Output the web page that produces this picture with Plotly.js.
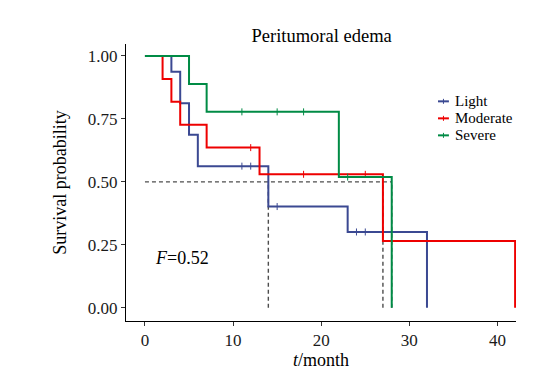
<!DOCTYPE html>
<html>
<head>
<meta charset="utf-8">
<script src="https://cdn.plot.ly/plotly-3.0.1.min.js"></script>
<style>html,body{margin:0;padding:0;background:#fff;}#chart{width:556px;height:374px;}</style>
</head>
<body>
<div id="chart"></div>
<script>
// Step data (time in months, survival probability)
const groups = ["Light", "Moderate", "Severe"];
const lightTime = [0, 3, 4, 5, 6, 14, 23, 32];
const lightSurv = [1, 0.9375, 0.8125, 0.6875, 0.5625, 0.402, 0.301, 0];
const moderateTime = [0, 2, 3, 4, 7, 13, 27, 42];
const moderateSurv = [1, 0.909, 0.818, 0.727, 0.636, 0.530, 0.265, 0];
const severeTime = [0, 5, 7, 22, 28];
const severeSurv = [1, 0.889, 0.778, 0.519, 0];
// Censor marks
const lightCensTime = [11, 12, 15, 24, 25];
const lightCensSurv = [0.5625, 0.5625, 0.402, 0.301, 0.301];
const moderateCensTime = [12, 18, 25];
const moderateCensSurv = [0.636, 0.530, 0.530];
const severeCensTime = [11, 15, 18, 23];
const severeCensSurv = [0.778, 0.778, 0.778, 0.519];
// Median survival times
const medianTimes = [14, 27, 28];
const medianLevel = 0.5;
const xTicks = [0, 10, 20, 30, 40];
const yTicks = [0, 0.25, 0.5, 0.75, 1];
const yTickText = ["0.00", "0.25", "0.50", "0.75", "1.00"];
const statText = "<i>F</i>=0.52";

const colors = ["#3B4992", "#EE0000", "#008B45"];
const times = [lightTime, moderateTime, severeTime];
const survs = [lightSurv, moderateSurv, severeSurv];
const cTimes = [lightCensTime, moderateCensTime, severeCensTime];
const cSurvs = [lightCensSurv, moderateCensSurv, severeCensSurv];

const traces = [];
// median dashed lines
const mx = [0, Math.max(...medianTimes)], my = [medianLevel, medianLevel];
medianTimes.forEach(t => { mx.push(null, t, t); my.push(null, 0, medianLevel); });
traces.push({x: mx, y: my, mode: "lines", line: {color: "#4d4d4d", width: 1.4, dash: "4px,3px"}, showlegend: false, hoverinfo: "skip"});

groups.forEach((g, i) => {
  traces.push({x: times[i], y: survs[i], mode: "lines", line: {shape: "hv", color: colors[i], width: 2}, showlegend: false, name: g});
  traces.push({x: cTimes[i], y: cSurvs[i], mode: "markers", marker: {symbol: "line-ns-open", size: 5, color: colors[i], line: {color: colors[i], width: 1}}, showlegend: false, name: g});
});

const fam = "Liberation Serif";

// Legend (drawn as key shapes + text labels, in paper coordinates)
const legX0 = 0.80, legX1 = 0.828, legTextX = 0.842, legTop = 0.793, legStep = 0.0614, tickH = 0.018;
const shapes = [], annotations = [];
groups.forEach((g, i) => {
  const yy = legTop - i * legStep;
  shapes.push({type: "line", xref: "paper", yref: "paper", x0: legX0, x1: legX1, y0: yy, y1: yy, line: {color: colors[i], width: 2}});
  const xm = (legX0 + legX1) / 2;
  shapes.push({type: "line", xref: "paper", yref: "paper", x0: xm, x1: xm, y0: yy - tickH / 2, y1: yy + tickH / 2, line: {color: colors[i], width: 1}});
  annotations.push({xref: "paper", yref: "paper", x: legTextX, y: yy, text: g, showarrow: false, xanchor: "left", yanchor: "middle", borderpad: 0, font: {family: fam, size: 15, color: "#000"}});
});
annotations.push({x: 0.95, y: 0.197, xref: "x", yref: "y", text: statText, showarrow: false, xanchor: "left", yanchor: "middle", font: {family: fam, size: 18, color: "#000"}});

const layout = {
  width: 556, height: 374,
  margin: {l: 126, r: 40, t: 44, b: 53},
  paper_bgcolor: "#fff", plot_bgcolor: "#fff",
  font: {family: fam, size: 17, color: "#000"},
  title: {text: "Peritumoral edema", font: {family: fam, size: 18.5, color: "#000"}, x: 0.5785, xanchor: "center", y: 0.905, yanchor: "middle"},
  xaxis: {range: [-2.15, 42.1], tickvals: xTicks, ticks: "outside", ticklen: 4, tickcolor: "#333",
    showline: true, linecolor: "#000", linewidth: 1, showgrid: false, zeroline: false,
    tickfont: {family: fam, size: 17, color: "#1a1a1a"},
    title: {text: "<i>t</i>/month", font: {family: fam, size: 18, color: "#000"}, standoff: 2}},
  yaxis: {range: [-0.0525, 1.0475], tickvals: yTicks, ticktext: yTickText, ticks: "outside", ticklen: 4, tickcolor: "#333",
    showline: true, linecolor: "#000", linewidth: 1, showgrid: false, zeroline: false,
    tickfont: {family: fam, size: 17, color: "#1a1a1a"},
    title: {text: "Survival probability", font: {family: fam, size: 18, color: "#000"}, standoff: 16}},
  shapes: shapes,
  annotations: annotations,
  showlegend: false
};
Plotly.newPlot("chart", traces, layout, {displayModeBar: false, staticPlot: true});
</script>
</body>
</html>
